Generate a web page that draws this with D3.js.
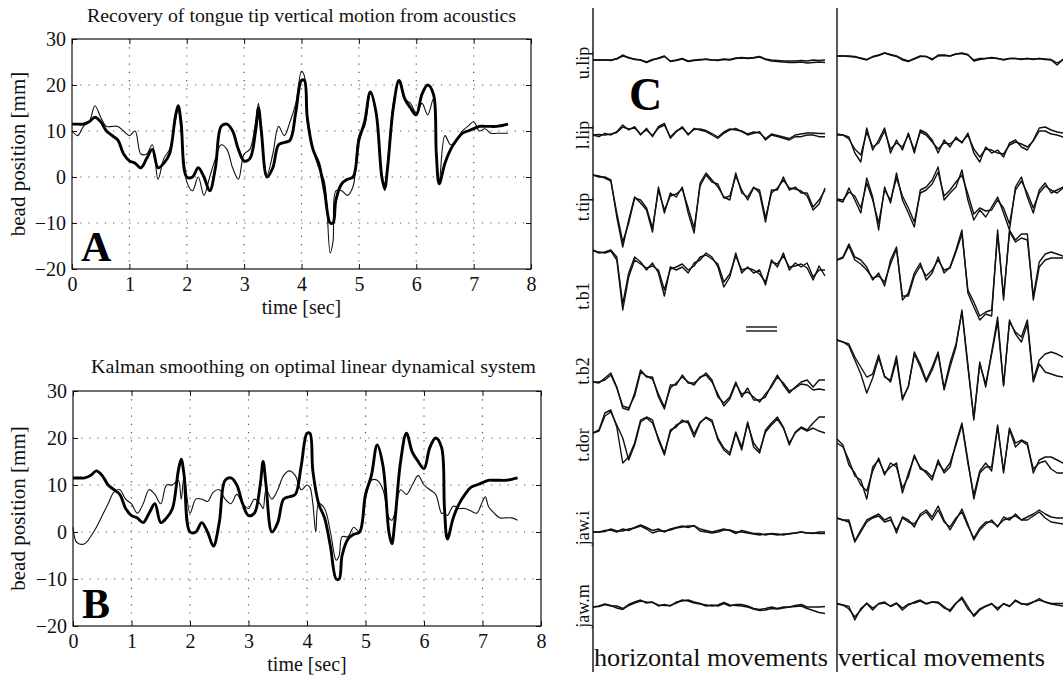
<!DOCTYPE html>
<html>
<head>
<meta charset="utf-8">
<script src="https://cdn.jsdelivr.net/npm/d3@7"></script>
<style>
  body { margin: 0; background: #fff; }
  svg { display: block; font-family: "Liberation Serif", "Times New Roman", Times, serif; }
  .grid { stroke: #555; stroke-width: 1.2; stroke-dasharray: 1.2 7; }
</style>
</head>
<body>
<svg id="fig" width="1063" height="677"></svg>
<script>
// ---- panels A / B : tongue tip vertical position [mm] vs time [sec]
const timeA = [0,0.1,0.2,0.3,0.4,0.5,0.6,0.7,0.8,0.9,1.0,1.1,1.2,1.3,1.4,1.5,1.6,1.7,1.8,1.85,1.9,
  2.0,2.1,2.2,2.3,2.4,2.5,2.6,2.7,2.8,2.9,3.0,3.1,3.2,3.25,3.3,3.4,3.5,3.6,3.7,3.8,3.9,4.0,4.05,
  4.1,4.2,4.3,4.4,4.5,4.55,4.6,4.7,4.8,4.9,5.0,5.1,5.2,5.3,5.4,5.45,5.5,5.6,5.7,5.8,5.9,6.0,6.1,
  6.2,6.3,6.35,6.4,6.5,6.6,6.7,6.8,6.9,7.0,7.1,7.2,7.3,7.4,7.5,7.6]
// measured trajectory (thick)
const trueTip = [11.5,11.5,11.5,12,13,12,10,9,8,5, 3.5,3,2,4,6,2,3,5,13, 15.5,12,
  0,0,2,0,-3,2,11,11.5,10,6,3.5,4,10, 15,10, 0,2,7,7.5,8,14,21, 21,
  13,6,3,-3,-10, -10, -5,-1.5,-0.5,0,8,12,18.5,14,0, -2.5, 2,15,21,17,15,13.5,18,20,18,
  5, -1.5,3,6,8,9.5,10,10.5,11,11,11,11,11.2,11.5]
// recovered from acoustics (thin, panel A)
const acousticTip = [10,9,11,12,15.5,13,11,11,11,10, 9,10,5,5,7,-0.5,4,6,12, 15,10,
  -1,-3,0,-4,0,4,7,6,2,-0.5,5,6,12, 16,9, 0.5,5,11,9,12,16,23, 22,
  12,6,2,-1,-16.5, -14, -3,-3,-4,-2,9,11,18,14,0, -3, 3,16,21,17,16,14,16,13.5,17,
  5, -1,9,7,8,10,11,12,10,10.5,9.5,9.5,9.5,9.5]
// kalman smoothing estimate (thin, panel B)
const timeB = [0,0.05,0.1,0.2,0.3,0.4,0.5,0.6,0.7,0.8,0.9,1.0,1.1,1.2,1.3,1.4,1.5,1.6,1.7,1.8,1.85,1.9,
  2.0,2.1,2.2,2.3,2.4,2.5,2.6,2.7,2.8,2.9,3.0,3.1,3.2,3.25,3.3,3.4,3.5,3.6,3.7,3.8,3.9,4.0,4.05,
  4.1,4.15,4.2,4.3,4.4,4.5,4.55,4.6,4.7,4.8,4.9,5.0,5.1,5.2,5.3,5.4,5.45,5.5,5.6,5.7,5.8,5.9,6.0,
  6.1,6.2,6.3,6.35,6.4,6.5,6.6,6.7,6.8,6.9,7.0,7.05,7.1,7.2,7.3,7.4,7.5,7.6]
const kalmanTip = [1,-2,-2.5,-2.5,-1,1,3.5,6,8.5,9,7, 6,4,6,9,8,6,10,10,11, 7,12,
  4,7,7,6.5,8.5,9,7,6,8,6,5,7,6, 5,9, 7,9,12,13,12,9,10, 9.5,
  6,0, 6,5,0,-6, -5, -1,-1,1,0,7,11,11,9,3, 2.5, 4,9,8,10,12,10,9,8,4,
  4, 3.5,5.5,5,5,4.5,4,6.5, 7.5, 5.5,4,3,3,3,2.5]

const xTicks = [0,1,2,3,4,5,6,7,8]
const yTicks = [-20,-10,0,10,20,30]

// ---- panel C : articulator traces, [measured, estimated], deviation per sample
const rowNames = ["u.lip","l.lip","t.tip","t.b1","t.b2","t.dor","jaw.i","jaw.m"]

const hULip = [[0,0,0,-0.5,1.5,5,2,1,0,-2.5,0,2,4,-1.5,-0.5,1,-1.5,-0.5,0,1,0,-0.5,0.5,0,1.5,2,1.5,2,3,0.5,-1,-1.5,-2,-2.5,-2.5,-2,-3,-2.5,-2,-2.5],
  [0,0,0,0,1,4,2.5,0.5,0,-2,0.5,1.5,3.5,-1,0,1.5,-1,0,0.5,0.5,0,0,1,0.5,2,2.5,2,2.5,3.5,1,0,-0.5,-1,-1,-1,-0.5,-1,0,-0.5,0]]
const hLLip = [[0,-1.7,1.7,0,3.3,10,5,8.3,0,6.7,-1.7,8.3,11.7,-3.3,3.3,8.3,0,6.7,5,3.3,0,-3.3,1.7,5,6.7,3.3,0,1.7,3.3,-5,0,-1.7,-3.3,-5,-1.7,-1.7,0,0,-1.7,-1.7],
  [0,0.5,0,1,2.5,8,6,7,1,5,-0.5,7,10,-2,4,7,1,5.5,6,4.5,1.5,-2,3,6,5,4,1,3,2,-3.5,1,-0.5,-2,-3.5,0,1,2,2,1.5,1.5]]
const hTTip = [[3,1,1,-2,-39,-69,-42,-19,-25,-32,-54,-9,-35,-15,-19,-9,-35,-55,-5,5,-2,-9,-19,-22,5,-15,-19,-9,-15,-44,-12,-12,1,-12,-9,-15,-15,-29,-22,-12],
  [3,2,0,-3,-35,-64,-45,-20,-22,-30,-50,-12,-32,-18,-16,-11,-30,-50,-8,3,-4,-6,-20,-18,2,-12,-22,-10,-12,-40,-15,-10,-2,-10,-11,-13,-18,-32,-26,-10]]
const hTB1 = [[2,-1,0,2,-5,-52,-21,-5,-10,-18,-11,-21,-44,-15,-18,-15,-21,-11,-8,-1,-5,-15,-35,-25,-1,-21,-15,-21,-18,-33,-8,-15,-1,-18,-11,-15,-11,-25,-18,-18],
  [1,0,-1,1,-8,-58,-25,-8,-12,-16,-14,-18,-38,-17,-15,-12,-18,-14,-5,-3,-7,-12,-30,-22,-4,-18,-16,-18,-22,-30,-10,-12,-4,-15,-14,-12,-16,-28,-14,-24]]
const hTB2 = [[0,-1,4,9,-5,-26,-28,-11,12,5,5,-15,-27,-3,-3,7,-1,-1,4,9,2,-15,-21,-15,0,-15,-6,-18,-18,-15,-3,7,-3,-11,-5,0,2,-5,2,2],
  [0,0,2,7,-6,-24,-26,-14,10,6,3,-12,-25,-6,-1,5,0,-3,5,7,0,-12,-24,-17,-2,-12,-10,-15,-20,-12,-5,5,-1,-9,-6,-2,-3,-8,-7,-8]]
const hTDor = [[0,3,20,23,6,-30,-24,-10,13,16,13,-7,-22,3,6,13,10,-4,10,16,13,-7,-17,-22,0,-17,11,-14,-20,3,10,16,6,-12,1,6,3,10,16,16],
  [0,2,17,21,8,-5,-27,-12,11,15,10,-5,-20,1,8,11,12,-1,11,15,11,-5,-15,-20,1,-14,9,-10,-18,1,8,14,5,-10,0,5,2,5,2,0]]
const hJawI = [[0,0,1.5,2,0,3,1.5,4.5,7,4.5,1.5,3,0,3,4.5,6,4.5,6.5,3,1.5,0,1.5,3,1.5,-1.5,1.5,0,-1.5,-1.5,-3,-1.5,-2,-3,-1.5,-1,0,-1,-1.5,0,0],
  [0,0,0.5,3,1,1,3,4,6,3,-1,1,1,2,4,5,6,6,1,0,-1,0,2,2,0,0,-1,-2,-3,-2,-2,-3,-2,-2,-1,0,-1,-1,-1.5,-1.5]]
const hJawM = [[0,0.5,2.5,1,1,-1.5,2.5,5,7,4,5,1,2.5,1,5,6,7,5,3.5,1,2,1,3.5,1,2.5,2.5,1,-1.5,-2.5,-1.5,0,-1.5,0,0,1.5,2.5,0,0,0,0.5],
  [0,1,3,1.5,-1,-2.5,1.5,4,6,5,4.5,2,1.5,1.5,4,7,6,4,3,2,1,2,4.5,2,1.5,1,0,-2,-3.5,-3,-1.5,-2,-1,0,0.5,1,-1.5,-3.5,-5.5,-6.5]]

const vULip = [[4,4,4,3.5,1.5,0,3.5,5,7,5,3.5,0,-1.5,1.5,4,3.5,0,5,5,4,6,6.5,5,0,1.5,1.5,2.5,1.5,0,1.5,1.5,0.5,1.5,0.5,1.5,0.5,0,-5,0.5,1.5],
  [4,4,3.5,3,2,0.5,3,4.5,7,5.5,4,1,-1,1,3.5,3.5,1,4,4.5,4,6,7,5.5,-1,0.5,1.5,2,1.5,0.5,1.5,1.5,1,1.5,1,1.5,1,0.5,-3,0.5,1.5]]
const vLLip = [[0,0,-2,-18,-27,7,-15,-5,7,-18,-5,-15,2,-18,5,2,-5,-18,-5,-12,-2,-8,2,-18,-27,-12,-18,-15,-22,-8,-5,-12,-15,-5,7,8,5,3,2,2],
  [1,0,-4,-14,-20,3,-12,-8,4,-14,-8,-12,0,-15,3,0,-7,-14,-8,-9,-4,-7,0,-14,-22,-14,-15,-18,-19,-10,-7,-9,-12,-6,4,4,1,0,-2,-3]]
const vTTip = [[-22,-24,-10,-22,-35,0,-19,-52,-9,-25,5,-22,-35,-49,-12,-9,-2,11,-22,-15,-9,8,-22,-42,-32,-39,-29,-19,-35,-52,-9,1,-19,-35,-12,-5,-15,-12,-9,-8],
  [-21,-22,-14,-18,-30,-5,-22,-45,-12,-22,0,-18,-30,-44,-15,-12,-6,6,-18,-12,-4,3,-16,-36,-30,-33,-32,-22,-30,-46,-12,-3,-15,-30,-15,-8,-12,-15,-10,-8]]
const vTB1 = [[-8,-5,8,-5,-8,-15,-28,-21,-34,-8,5,-48,-41,-21,-11,-28,-21,-5,-21,-15,2,22,-41,-55,-68,-62,-64,22,-48,22,12,18,18,-48,-15,-8,-6,-6,-6,-6],
  [-8,-6,6,-8,-12,-18,-26,-24,-30,-12,3,-44,-44,-24,-14,-24,-18,-8,-18,-16,0,18,-38,-50,-64,-60,-58,18,-44,20,10,14,12,-44,-10,-2,0,-2,-4,-8]]
const vTB2 = [[42,40,38,25,15,5,8,27,5,2,26,-16,-5,30,18,2,15,30,-6,19,38,70,15,-36,20,-5,30,65,-3,60,50,45,62,2,22,28,30,28,25,25],
  [42,40,36,22,8,-11,4,24,6,0,22,-18,-4,28,15,0,12,28,-8,15,35,72,18,-38,18,-2,28,60,-4,62,48,40,58,0,18,10,8,6,5,5]]
const vTDor = [[-10,-14,-27,-43,-47,-66,-34,-27,-40,-34,-30,-60,-40,-24,-34,-40,-47,-27,-40,-34,-10,10,-27,-66,-40,-34,-34,8,-40,5,-10,-7,-10,-40,-27,-24,-24,-27,-30,-30],
  [-6,-12,-32,-40,-52,-58,-38,-25,-42,-30,-34,-55,-44,-22,-36,-38,-44,-30,-38,-30,-12,8,-30,-62,-38,-30,-38,6,-38,4,-14,-8,-12,-36,-30,-28,-36,-40,-40,-42]]
const vJawI = [[14,12,12,-9,2,12,15,18,12,15,-1,15,12,5,18,22,15,26,12,2,12,23,8,-8,2,8,12,5,15,12,18,12,15,18,22,18,15,14,14,14],
  [14,12,10,-10,0,10,14,16,10,12,2,14,10,8,16,20,12,22,10,5,14,20,6,-6,4,10,10,6,12,14,16,12,12,16,20,14,10,9,8,8]]
const vJawM = [[3.5,2,0.5,-13,-1.5,3.5,-3,3.5,5,0.5,3.5,-3,2,5,7,3.5,5,5,0.5,-4.5,3.5,10,0.5,-9.5,-3,0.5,3.5,-3,3.5,0.5,7,3.5,2,5,8.5,5,3.5,3.5,3.5,3.5],
  [3,2,-2,-10,-3,4,-1,3,4,1,4,-1,3,4,6,3,5,4,-1,-3,4,8,-2,-8,-2,1,3,-1,3,1,6,3,3,5,7,5,3,2,1,1]]

const horizRows = [hULip, hLLip, hTTip, hTB1, hTB2, hTDor, hJawI, hJawM]
const vertRows = [vULip, vLLip, vTTip, vTB1, vTB2, vTDor, vJawI, vJawM]

// ---- layout
const svg = d3.select("#fig")
const serif = "Liberation Serif, Times New Roman, serif"

function drawPanel(p) {
  var g = svg.append("g")
  var x = d3.scaleLinear().domain([0, 8]).range([p.left, p.right])
  var y = d3.scaleLinear().domain([-20, 30]).range([p.bottom, p.top])

  // dotted matlab grid
  g.append("g").selectAll("line").data(xTicks.slice(1, -1)).join("line")
    .attr("class", "grid")
    .attr("x1", d => x(d)).attr("x2", d => x(d))
    .attr("y1", p.top).attr("y2", p.bottom)
  g.append("g").selectAll("line").data(yTicks.slice(1, -1)).join("line")
    .attr("class", "grid")
    .attr("y1", d => y(d)).attr("y2", d => y(d))
    .attr("x1", p.left).attr("x2", p.right)

  // ticks inside the box, all four sides
  g.append("g").attr("transform", "translate(0," + p.bottom + ")")
    .call(d3.axisBottom(x).tickValues(xTicks).tickSize(-5).tickPadding(8))
  var left = g.append("g").attr("transform", "translate(" + p.left + ",0)")
    .call(d3.axisLeft(y).tickValues(yTicks).tickSize(-5).tickPadding(6))
  g.append("g").attr("transform", "translate(0," + p.top + ")")
    .call(d3.axisTop(x).tickValues(xTicks).tickSize(-5).tickFormat(""))
  g.append("g").attr("transform", "translate(" + p.right + ",0)")
    .call(d3.axisRight(y).tickValues(yTicks).tickSize(-5).tickFormat(""))
  g.selectAll(".domain").remove()
  g.selectAll(".tick line").attr("stroke", "#111")
  g.selectAll(".tick text")
    .attr("font-family", serif)
    .attr("font-size", 20).attr("fill", "#111")
  left.selectAll(".tick text").attr("dy", "0.34em")

  g.append("rect")
    .attr("x", p.left).attr("y", p.top)
    .attr("width", p.right - p.left).attr("height", p.bottom - p.top)
    .attr("fill", "none").attr("stroke", "#111").attr("stroke-width", 1.2)

  // thin estimate first, thick measured on top
  var thinLine = d3.line().x((d, i) => x(p.thinTime[i])).y(d => y(d))
    .curve(d3.curveCatmullRom.alpha(0.5))
  var thickLine = d3.line().x((d, i) => x(timeA[i])).y(d => y(d))
    .curve(d3.curveCatmullRom.alpha(0.5))
  g.append("path").attr("d", thinLine(p.thin))
    .attr("fill", "none").attr("stroke", "#111").attr("stroke-width", 1.1)
    .attr("stroke-linejoin", "round")
  g.append("path").attr("d", thickLine(trueTip))
    .attr("fill", "none").attr("stroke", "#000").attr("stroke-width", 2.9)
    .attr("stroke-linejoin", "round")

  // texts
  g.append("text").attr("x", p.titleX).attr("y", p.titleY)
    .attr("textLength", p.titleW).attr("lengthAdjust", "spacingAndGlyphs")
    .attr("font-size", 18).attr("fill", "#111").text(p.title)
  g.append("text")
    .attr("x", (p.left + p.right) / 2).attr("y", p.bottom + 45)
    .attr("text-anchor", "middle").attr("font-size", 20).attr("fill", "#111")
    .text("time [sec]")
  g.append("text")
    .attr("transform", "translate(25," + (p.top + p.bottom) / 2 + ") rotate(-90)")
    .attr("text-anchor", "middle").attr("font-size", 21).attr("fill", "#111")
    .text("bead position [mm]")
  g.append("text").attr("x", p.left + 9).attr("y", p.bottom - 8)
    .attr("font-size", 42).attr("font-weight", "bold").attr("fill", "#000")
    .text(p.letter)
}

drawPanel({left: 72, right: 531, top: 39, bottom: 269,
  title: "Recovery of tongue tip vertical motion from acoustics",
  titleX: 87, titleY: 22, titleW: 429,
  thin: acousticTip, thinTime: timeA, letter: "A"})

drawPanel({left: 73, right: 541, top: 391, bottom: 626,
  title: "Kalman smoothing on optimal linear dynamical system",
  titleX: 91, titleY: 373, titleW: 445,
  thin: kalmanTip, thinTime: timeB, letter: "B"})

// ---- panel C
const rowBase = [60, 135, 178, 252, 382, 433, 532, 607]
const rowLabelY = [63, 135, 207, 296, 371, 445, 528, 606]
const gc = svg.append("g")

var xH = d3.scaleLinear().domain([0, 39]).range([593, 825])
var xV = d3.scaleLinear().domain([0, 39]).range([837, 1069])
var yC = d3.scaleLinear().domain([-10, 10]).range([10, -10])

function drawColumn(rows, xs) {
  rows.forEach(function(pair, r) {
    var rg = gc.append("g").attr("transform", "translate(0," + rowBase[r] + ")")
    var line = d3.line().x((d, i) => xs(i)).y(d => yC(d))
    pair.forEach(function(series) {
      rg.append("path").attr("d", line(series))
        .attr("fill", "none").attr("stroke", "#111").attr("stroke-width", 1.4)
        .attr("stroke-linejoin", "round")
    })
  })
}
drawColumn(horizRows, xH)
drawColumn(vertRows, xV)

// column axes
gc.selectAll(".caxis").data([593, 837]).join("line")
  .attr("class", "caxis")
  .attr("x1", d => d).attr("x2", d => d).attr("y1", 8).attr("y2", 672)
  .attr("stroke", "#111").attr("stroke-width", 1.4)

gc.selectAll(".rowlab").data(rowNames).join("text")
  .attr("class", "rowlab")
  .attr("transform", (d, i) => "translate(589," + rowLabelY[i] + ") rotate(-90)")
  .attr("text-anchor", "middle").attr("font-size", 18).attr("fill", "#111")
  .text(d => d)

gc.append("text").attr("x", 629).attr("y", 110)
  .attr("font-size", 46).attr("font-weight", "bold").attr("fill", "#000").text("C")

// small double scale bar
gc.selectAll(".bar").data([327, 331]).join("line")
  .attr("class", "bar")
  .attr("x1", 746).attr("x2", 777).attr("y1", d => d).attr("y2", d => d)
  .attr("stroke", "#111").attr("stroke-width", 1.4)

gc.append("text").attr("x", 594).attr("y", 666)
  .attr("font-size", 26).attr("fill", "#111")
  .attr("textLength", 234).attr("lengthAdjust", "spacingAndGlyphs")
  .text("horizontal movements")
gc.append("text").attr("x", 838).attr("y", 666)
  .attr("font-size", 26).attr("fill", "#111")
  .attr("textLength", 207).attr("lengthAdjust", "spacingAndGlyphs")
  .text("vertical movements")
</script>
</body>
</html>
